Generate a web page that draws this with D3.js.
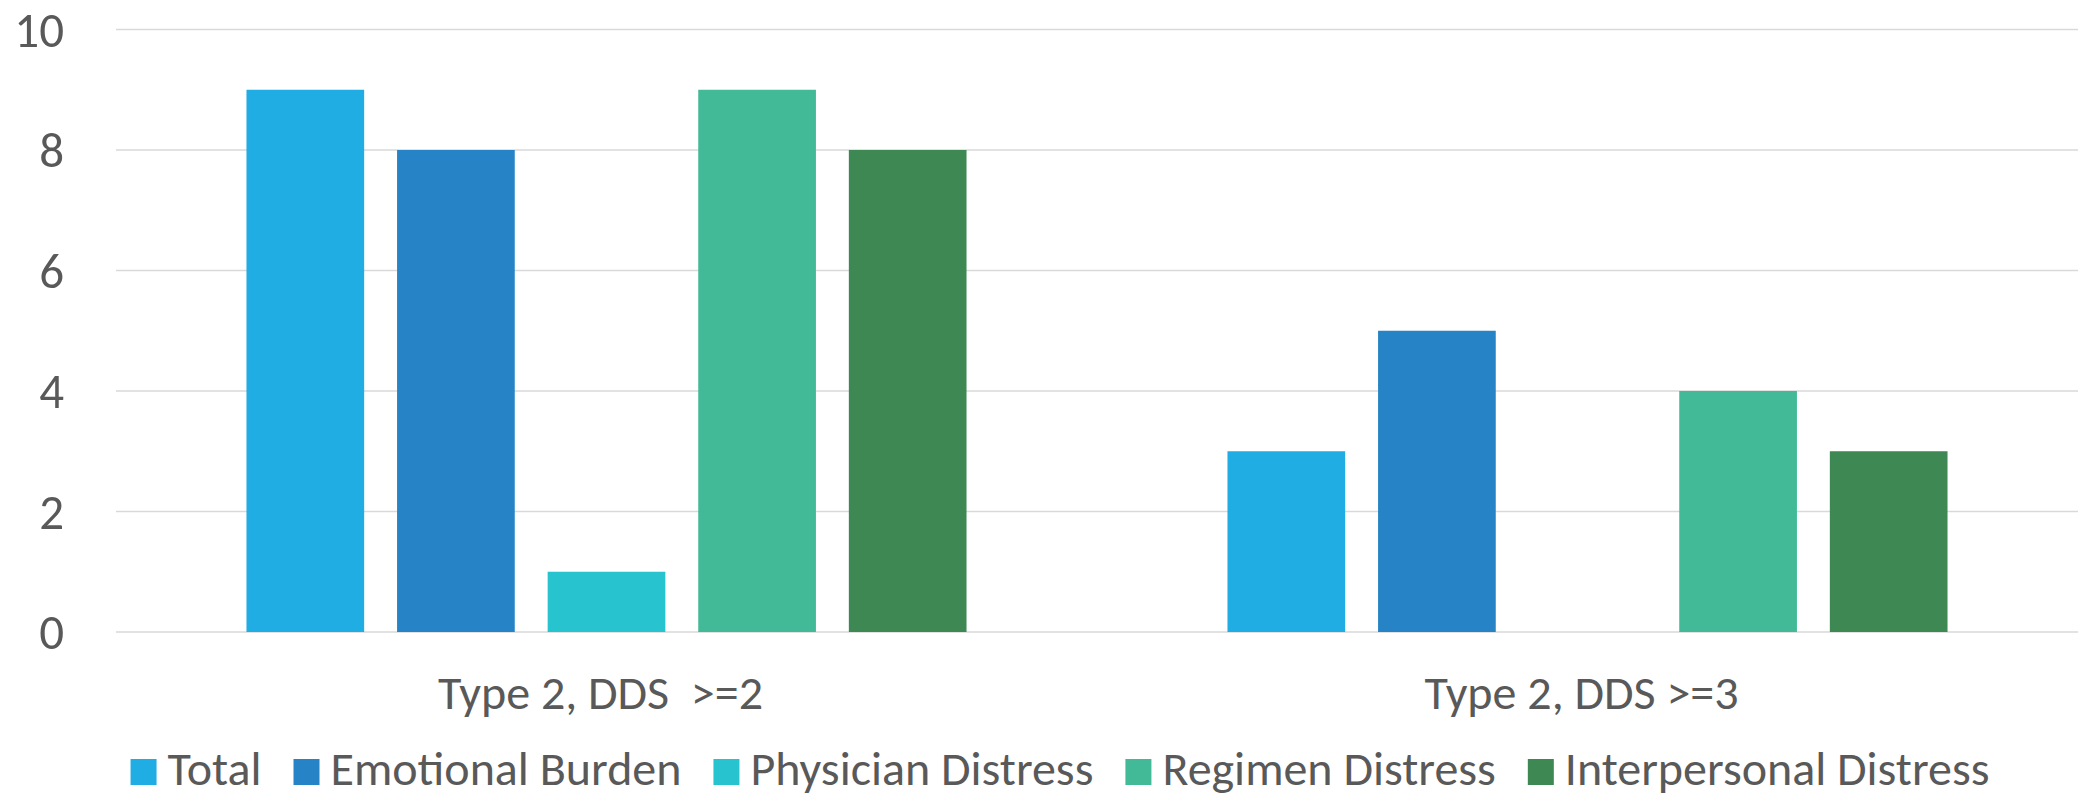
<!DOCTYPE html>
<html>
<head>
<meta charset="utf-8">
<script src="https://cdn.jsdelivr.net/npm/d3@7/dist/d3.min.js"></script>
<style>
  html, body { margin: 0; padding: 0; background: #ffffff; }
  svg { display: block; }
  text { font-family: Carlito, Calibri, "Liberation Sans Narrow", "Liberation Sans", sans-serif; fill: #595959; white-space: pre; }
</style>
</head>
<body>
<svg id="chart" width="2079" height="799"></svg>
<script>
// Groups along the x axis
const categories = ["Type 2, DDS  >=2", "Type 2, DDS >=3"];

// Series (one bar per group each)
const seriesNames = ["Total", "Emotional Burden", "Physician Distress", "Regimen Distress", "Interpersonal Distress"];
const totalValues = [9, 3];
const emotionalBurdenValues = [8, 5];
const physicianDistressValues = [1, 0];
const regimenDistressValues = [9, 4];
const interpersonalDistressValues = [8, 3];

const yTicks = [0, 2, 4, 6, 8, 10];
const seriesColors = ["#1FADE4", "#2683C6", "#27C3CE", "#42BA97", "#3E8853"];

const seriesValues = [totalValues, emotionalBurdenValues, physicianDistressValues, regimenDistressValues, interpersonalDistressValues];

const plot = { left: 116, right: 2078, top: 29.5, bottom: 632 };
const fontSize = 48;

const svg = d3.select("#chart");

const x0 = d3.scaleBand()
  .domain(categories)
  .range([plot.left, plot.right])
  .paddingInner(0)
  .paddingOuter(0);

// Cluster occupies the middle of each group band
const clusterInset = x0.bandwidth() * 0.133;
const x1 = d3.scaleBand()
  .domain(seriesNames)
  .range([clusterInset, x0.bandwidth() - clusterInset])
  .paddingInner(0.2185)
  .paddingOuter(0);

const y = d3.scaleLinear().domain([0, 10]).range([plot.bottom, plot.top]);

// Horizontal gridlines
svg.append("g")
  .selectAll("line")
  .data(yTicks)
  .join("line")
  .attr("x1", plot.left)
  .attr("x2", plot.right)
  .attr("y1", d => y(d))
  .attr("y2", d => y(d))
  .attr("stroke", "#d9d9d9")
  .attr("stroke-width", 1.5);

// Y axis labels
const yAxis = d3.axisLeft(y).tickValues(yTicks).tickSize(0).tickPadding(0).tickFormat(d3.format("d"));
const yG = svg.append("g")
  .attr("transform", `translate(64,0)`)
  .call(yAxis);
yG.select(".domain").remove();
yG.selectAll("text")
  .attr("font-size", 49)
  .attr("fill", "#595959")
  .attr("font-family", null)
  .attr("dy", "0.34em");

// Bars
const groups = svg.append("g")
  .selectAll("g")
  .data(categories)
  .join("g")
  .attr("transform", d => `translate(${x0(d)},0)`);

groups.selectAll("rect")
  .data((c, gi) => seriesNames.map((s, si) => ({ series: s, value: seriesValues[si][gi], color: seriesColors[si] })))
  .join("rect")
  .attr("x", d => x1(d.series))
  .attr("width", x1.bandwidth())
  .attr("y", d => y(d.value))
  .attr("height", d => y(0) - y(d.value))
  .attr("fill", d => d.color);

// Category labels
svg.append("g")
  .selectAll("text")
  .data(categories)
  .join("text")
  .attr("x", d => x0(d) + x0.bandwidth() / 2 - 6)
  .attr("y", 709)
  .attr("text-anchor", "middle")
  .attr("font-size", fontSize)
  .text(d => d);

// Legend
const legend = svg.append("g");
const sw = 26, swGap = 11, itemGap = 32;
const items = legend.selectAll("g")
  .data(seriesNames.map((s, i) => ({ name: s, color: seriesColors[i] })))
  .join("g");
items.append("rect")
  .attr("width", sw).attr("height", sw)
  .attr("y", 759)
  .attr("fill", d => d.color);
items.append("text")
  .attr("x", sw + swGap)
  .attr("y", 785)
  .attr("font-size", fontSize)
  .text(d => d.name);

let widths = [];
items.each(function () { widths.push(sw + swGap + d3.select(this).select("text").node().getComputedTextLength()); });
const totalW = d3.sum(widths) + itemGap * (widths.length - 1);
let cx = 1060 - totalW / 2;
items.attr("transform", (d, i) => {
  const t = `translate(${cx},0)`;
  cx += widths[i] + itemGap;
  return t;
});
</script>
</body>
</html>
